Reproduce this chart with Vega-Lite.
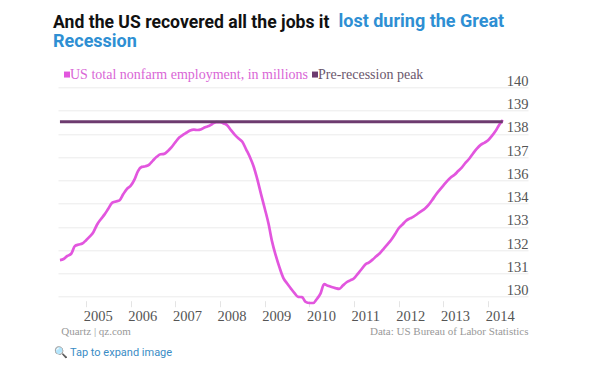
{
  "$schema": "https://vega.github.io/schema/vega-lite/v6.json",
  "width": 470,
  "height": 209.4,
  "autosize": "none",
  "padding": {"left": 58, "top": 87.3, "right": 71, "bottom": 73.3},
  "background": "white",
  "config": {"view": {"stroke": null}},
  "title": {
    "text": "And the US recovered all the jobs it",
    "subtitle": "Recession",
    "anchor": "start",
    "frame": "group",
    "font": "Roboto",
    "fontSize": 17.6,
    "fontWeight": "bold",
    "color": "#111111",
    "subtitleFont": "Roboto",
    "subtitleFontSize": 18,
    "subtitleFontWeight": "bold",
    "subtitleColor": "#2e8fd3",
    "subtitlePadding": 1.4,
    "dx": -5,
    "dy": 38,
    "offset": 0
  },
  "layer": [
    {
      "data": {"values": [
        {"month": "2004-06-01", "jobs": 131.75}, {"month": "2004-07-01", "jobs": 131.80}, {"month": "2004-08-01", "jobs": 131.95}, {"month": "2004-09-01", "jobs": 132.05}, {"month": "2004-10-01", "jobs": 132.42}, {"month": "2004-11-01", "jobs": 132.49}, {"month": "2004-12-01", "jobs": 132.54},
        {"month": "2005-01-01", "jobs": 132.70}, {"month": "2005-02-01", "jobs": 132.88}, {"month": "2005-03-01", "jobs": 133.08}, {"month": "2005-04-01", "jobs": 133.45}, {"month": "2005-05-01", "jobs": 133.70}, {"month": "2005-06-01", "jobs": 133.93}, {"month": "2005-07-01", "jobs": 134.20}, {"month": "2005-08-01", "jobs": 134.48}, {"month": "2005-09-01", "jobs": 134.55}, {"month": "2005-10-01", "jobs": 134.60}, {"month": "2005-11-01", "jobs": 134.90}, {"month": "2005-12-01", "jobs": 135.15},
        {"month": "2006-01-01", "jobs": 135.30}, {"month": "2006-02-01", "jobs": 135.60}, {"month": "2006-03-01", "jobs": 136.00}, {"month": "2006-04-01", "jobs": 136.20}, {"month": "2006-05-01", "jobs": 136.23}, {"month": "2006-06-01", "jobs": 136.31}, {"month": "2006-07-01", "jobs": 136.50}, {"month": "2006-08-01", "jobs": 136.68}, {"month": "2006-09-01", "jobs": 136.80}, {"month": "2006-10-01", "jobs": 136.82}, {"month": "2006-11-01", "jobs": 136.96}, {"month": "2006-12-01", "jobs": 137.14},
        {"month": "2007-01-01", "jobs": 137.38}, {"month": "2007-02-01", "jobs": 137.60}, {"month": "2007-03-01", "jobs": 137.72}, {"month": "2007-04-01", "jobs": 137.83}, {"month": "2007-05-01", "jobs": 137.94}, {"month": "2007-06-01", "jobs": 137.98}, {"month": "2007-07-01", "jobs": 137.96}, {"month": "2007-08-01", "jobs": 138.00}, {"month": "2007-09-01", "jobs": 138.09}, {"month": "2007-10-01", "jobs": 138.15}, {"month": "2007-11-01", "jobs": 138.26}, {"month": "2007-12-01", "jobs": 138.34},
        {"month": "2008-01-01", "jobs": 138.33}, {"month": "2008-02-01", "jobs": 138.27}, {"month": "2008-03-01", "jobs": 138.18}, {"month": "2008-04-01", "jobs": 137.94}, {"month": "2008-05-01", "jobs": 137.73}, {"month": "2008-06-01", "jobs": 137.55}, {"month": "2008-07-01", "jobs": 137.40}, {"month": "2008-08-01", "jobs": 137.04}, {"month": "2008-09-01", "jobs": 136.67}, {"month": "2008-10-01", "jobs": 136.23}, {"month": "2008-11-01", "jobs": 135.60}, {"month": "2008-12-01", "jobs": 134.90},
        {"month": "2009-01-01", "jobs": 134.20}, {"month": "2009-02-01", "jobs": 133.47}, {"month": "2009-03-01", "jobs": 132.64}, {"month": "2009-04-01", "jobs": 131.96}, {"month": "2009-05-01", "jobs": 131.40}, {"month": "2009-06-01", "jobs": 130.90}, {"month": "2009-07-01", "jobs": 130.64}, {"month": "2009-08-01", "jobs": 130.40}, {"month": "2009-09-01", "jobs": 130.17}, {"month": "2009-10-01", "jobs": 129.99}, {"month": "2009-11-01", "jobs": 129.98}, {"month": "2009-12-01", "jobs": 129.75},
        {"month": "2010-01-01", "jobs": 129.70}, {"month": "2010-02-01", "jobs": 129.70}, {"month": "2010-03-01", "jobs": 129.88}, {"month": "2010-04-01", "jobs": 130.15}, {"month": "2010-05-01", "jobs": 130.60}, {"month": "2010-06-01", "jobs": 130.52}, {"month": "2010-07-01", "jobs": 130.46}, {"month": "2010-08-01", "jobs": 130.41}, {"month": "2010-09-01", "jobs": 130.37}, {"month": "2010-10-01", "jobs": 130.53}, {"month": "2010-11-01", "jobs": 130.69}, {"month": "2010-12-01", "jobs": 130.78},
        {"month": "2011-01-01", "jobs": 130.88}, {"month": "2011-02-01", "jobs": 131.10}, {"month": "2011-03-01", "jobs": 131.30}, {"month": "2011-04-01", "jobs": 131.53}, {"month": "2011-05-01", "jobs": 131.63}, {"month": "2011-06-01", "jobs": 131.77}, {"month": "2011-07-01", "jobs": 131.93}, {"month": "2011-08-01", "jobs": 132.09}, {"month": "2011-09-01", "jobs": 132.30}, {"month": "2011-10-01", "jobs": 132.50}, {"month": "2011-11-01", "jobs": 132.72}, {"month": "2011-12-01", "jobs": 132.98},
        {"month": "2012-01-01", "jobs": 133.27}, {"month": "2012-02-01", "jobs": 133.45}, {"month": "2012-03-01", "jobs": 133.63}, {"month": "2012-04-01", "jobs": 133.74}, {"month": "2012-05-01", "jobs": 133.82}, {"month": "2012-06-01", "jobs": 133.95}, {"month": "2012-07-01", "jobs": 134.07}, {"month": "2012-08-01", "jobs": 134.20}, {"month": "2012-09-01", "jobs": 134.38}, {"month": "2012-10-01", "jobs": 134.62}, {"month": "2012-11-01", "jobs": 134.88}, {"month": "2012-12-01", "jobs": 135.10},
        {"month": "2013-01-01", "jobs": 135.32}, {"month": "2013-02-01", "jobs": 135.53}, {"month": "2013-03-01", "jobs": 135.69}, {"month": "2013-04-01", "jobs": 135.82}, {"month": "2013-05-01", "jobs": 136.00}, {"month": "2013-06-01", "jobs": 136.18}, {"month": "2013-07-01", "jobs": 136.40}, {"month": "2013-08-01", "jobs": 136.60}, {"month": "2013-09-01", "jobs": 136.85}, {"month": "2013-10-01", "jobs": 137.07}, {"month": "2013-11-01", "jobs": 137.25}, {"month": "2013-12-01", "jobs": 137.35},
        {"month": "2014-01-01", "jobs": 137.47}, {"month": "2014-02-01", "jobs": 137.68}, {"month": "2014-03-01", "jobs": 137.90}, {"month": "2014-04-01", "jobs": 138.20}, {"month": "2014-05-01", "jobs": 138.44}
      ]},
      "mark": {"type": "line", "strokeWidth": 2.7, "interpolate": "monotone"},
      "encoding": {
        "x": {
          "field": "month", "type": "temporal",
          "scale": {"domain": [{"year": 2004, "month": 5, "date": 16}, {"year": 2014, "month": 11, "date": 23}], "nice": false},
          "axis": {
            "orient": "bottom", "tickCount": {"interval": "year", "step": 1}, "format": "%Y",
            "grid": false, "domain": false, "ticks": true, "tickColor": "#e4e4e4", "tickSize": 6, "offset": 4,
            "labelAlign": "left", "labelOffset": -3, "labelPadding": 13.5, "labelBaseline": "alphabetic",
            "labelFont": "Liberation Serif", "labelFontSize": 14.5, "labelColor": "#555555",
            "labelFlush": false, "labelOverlap": false,
            "title": "Quartz | qz.com", "titleX": 2.7, "titleY": 33.3, "titleAlign": "left", "titleBaseline": "alphabetic",
            "titleFont": "Liberation Serif", "titleFontSize": 11, "titleFontWeight": "normal", "titleColor": "#999999"
          }
        },
        "y": {
          "field": "jobs", "type": "quantitative",
          "scale": {"domain": [130, 140], "zero": false, "nice": false},
          "axis": {
            "orient": "right",
            "values": [130, 131.1111, 132.2222, 133.3333, 134.4444, 135.5556, 136.6667, 137.7778, 138.8889, 140],
            "labelExpr": "format(datum.value, '.0f')",
            "grid": true, "gridColor": "#ebebeb", "gridWidth": 1, "domain": false, "ticks": false, "tickSize": 0,
            "labelAlign": "right", "labelBaseline": "alphabetic", "labelPadding": 0, "labelOffset": -2,
            "labelFont": "Liberation Serif", "labelFontSize": 14.5, "labelColor": "#555555", "labelOverlap": false,
            "title": "Data: US Bureau of Labor Statistics", "titleAngle": 0, "titleAlign": "right", "titleBaseline": "alphabetic",
            "titleX": 0, "titleY": 246.7, "titleFont": "Liberation Serif", "titleFontSize": 11, "titleFontWeight": "normal", "titleColor": "#999999"
          }
        },
        "color": {
          "datum": "US total nonfarm employment, in millions",
          "scale": {"domain": ["US total nonfarm employment, in millions", "Pre-recession peak"], "range": ["#e256de", "#6d3b6f"]},
          "legend": {
            "orient": "none", "legendX": 2, "legendY": -20, "direction": "horizontal", "title": null,
            "symbolType": "square", "symbolSize": 9, "symbolStrokeWidth": 3,
            "labelFont": "Liberation Serif", "labelFontSize": 14, "labelLimit": 400,
            "labelColor": {"expr": "datum.label === 'Pre-recession peak' ? '#6b576d' : '#d966d6'"},
            "labelOffset": -4, "columnPadding": -1
          }
        }
      }
    },
    {
      "data": {"values": [{"start": "2004-06-01", "end": "2014-05-01", "peak": 138.36}]},
      "mark": {"type": "rule", "strokeWidth": 3},
      "encoding": {
        "x": {
          "field": "start", "type": "temporal",
          "scale": {"domain": [{"year": 2004, "month": 5, "date": 16}, {"year": 2014, "month": 11, "date": 23}], "nice": false},
          "axis": {
            "orient": "top", "labels": false, "ticks": false, "domain": false, "grid": false,
            "title": "lost during the Great", "titleX": 280, "titleY": -60.6, "titleAlign": "left", "titleBaseline": "alphabetic",
            "titleFont": "Roboto", "titleFontSize": 18, "titleFontWeight": "bold", "titleColor": "#2e8fd3"
          }
        },
        "x2": {"field": "end"},
        "y": {
          "field": "peak", "type": "quantitative",
          "scale": {"domain": [130, 140], "zero": false, "nice": false},
          "axis": {
            "orient": "left", "labels": false, "ticks": false, "domain": false, "grid": false,
            "title": "🔍 Tap to expand image", "titleAngle": 0, "titleAlign": "left", "titleBaseline": "alphabetic",
            "titleX": -5, "titleY": 267.7, "titleFont": "Roboto", "titleFontSize": 11, "titleFontWeight": "normal", "titleColor": "#3a8cc5"
          }
        },
        "color": {"datum": "Pre-recession peak"}
      }
    }
  ],
  "resolve": {"scale": {"x": "independent", "y": "independent"}}
}
